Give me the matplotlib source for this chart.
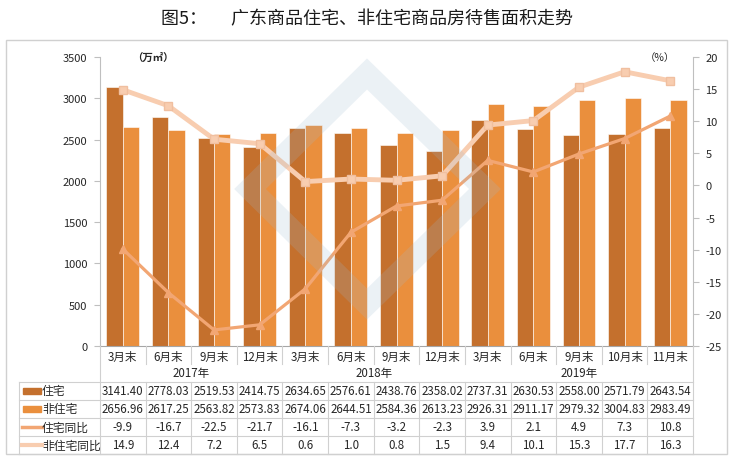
import numpy as np
import matplotlib.pyplot as plt
import matplotlib.transforms as mtransforms
from matplotlib.lines import Line2D
from matplotlib.patches import Rectangle, Polygon

plt.rcParams['font.family'] = ['Noto Sans CJK SC', 'DejaVu Sans']
plt.rcParams['axes.unicode_minus'] = False

months = ['3月末', '6月末', '9月末', '12月末', '3月末', '6月末', '9月末', '12月末',
          '3月末', '6月末', '9月末', '10月末', '11月末']
years = ['2017年', '2018年', '2019年']
year_span = [(0, 3), (4, 7), (8, 12)]
zhuzhai = [3141.40, 2778.03, 2519.53, 2414.75, 2634.65, 2576.61, 2438.76, 2358.02,
           2737.31, 2630.53, 2558.00, 2571.79, 2643.54]
fei_zhuzhai = [2656.96, 2617.25, 2563.82, 2573.83, 2674.06, 2644.51, 2584.36, 2613.23,
               2926.31, 2911.17, 2979.32, 3004.83, 2983.49]
zhuzhai_yoy = [-9.9, -16.7, -22.5, -21.7, -16.1, -7.3, -3.2, -2.3, 3.9, 2.1, 4.9, 7.3, 10.8]
fei_yoy = [14.9, 12.4, 7.2, 6.5, 0.6, 1.0, 0.8, 1.5, 9.4, 10.1, 15.3, 17.7, 16.3]

c_zz = '#C4702D'
c_fz = '#EA8F3D'
c_zy = '#F2A673'
c_fy = '#F8CDB0'
grid_c = '#BFBFBF'
txt_c = '#262626'

W, H = 734, 464
fig = plt.figure(figsize=(W / 100, H / 100), dpi=100)


def fx(px):
    return px / W


def fy(py):
    return 1 - py / H


# outer frame
fig.add_artist(Rectangle((fx(6), fy(455)), fx(727) - fx(6), fy(41) - fy(455),
                         transform=fig.transFigure, fill=False, ec='#D0D0D0', lw=1))

fig.text(0.5, fy(19), '图5：      广东商品住宅、非住宅商品房待售面积走势',
         ha='center', va='center', fontsize=13, color='#1a1a1a')

ax_l, ax_r, ax_t, ax_b = 100, 693, 58, 347
ax = fig.add_axes([fx(ax_l), fy(ax_b), fx(ax_r) - fx(ax_l), fy(ax_t) - fy(ax_b)])
ax2 = ax.twinx()

x = np.arange(len(months))
bw = 0.36
ax.bar(x - bw / 2, zhuzhai, bw, color=c_zz, edgecolor='white', linewidth=0.4, zorder=2)
ax.bar(x + bw / 2, fei_zhuzhai, bw, color=c_fz, edgecolor='white', linewidth=0.4, zorder=2)

ax2.plot(x, zhuzhai_yoy, color=c_zy, lw=2.3, marker='^', ms=6, mfc=c_zy, mec=c_zy, zorder=3)
ax2.plot(x, fei_yoy, color=c_fy, lw=3.5, marker='s', ms=6, mfc=c_fy, mec='#F0BFA0', zorder=3)

ax.set_xlim(-0.5, len(months) - 0.5)
ax.set_ylim(0, 3500)
ax.set_yticks(np.arange(0, 3501, 500))
ax2.set_ylim(-25, 20)
ax2.set_yticks(np.arange(-25, 21, 5))
ax.set_xticks([])

for a in (ax, ax2):
    for s in a.spines.values():
        s.set_visible(False)
    a.tick_params(axis='y', colors=txt_c, labelsize=8, length=4, width=0.8, color=grid_c, pad=5)
ax.spines['left'].set_visible(True)
ax.spines['left'].set_color(grid_c)
ax2.spines['right'].set_visible(True)
ax2.spines['right'].set_color(grid_c)
ax.spines['bottom'].set_visible(True)
ax.spines['bottom'].set_color('#A6A6A6')
ax.patch.set_alpha(0)

ax.text(0.055, 1.0, '（万㎡）', transform=ax.transAxes, fontsize=7.5, fontweight='bold',
        ha='left', va='center', color=txt_c)
ax2.text(0.97, 1.0, '（%）', transform=ax.transAxes, fontsize=7.5,
         ha='right', va='center', color=txt_c)

# faint watermark diamond
fig.add_artist(Polygon([(fx(367), fy(75)), (fx(485), fy(190)), (fx(367), fy(305)), (fx(250), fy(190))],
                       closed=True, fill=False, ec='#9FBBD0', lw=16, alpha=0.2,
                       transform=fig.transFigure, zorder=5))

# data table below the axes
tr = mtransforms.blended_transform_factory(ax.transData, fig.transFigure)
row_month, row_year = 357, 374
rows_y = [392, 410, 428, 446]
row_lines = [383, 401, 419, 437, 455]
tab_left = 19

for xi, m in zip(x, months):
    fig.text(xi, fy(row_month), m, transform=tr, ha='center', va='center', fontsize=8.3, color=txt_c)
for (a, b), yr in zip(year_span, years):
    fig.text((a + b) / 2, fy(row_year), yr, transform=tr, ha='center', va='center',
             fontsize=8.3, color=txt_c)

series = [zhuzhai, fei_zhuzhai, zhuzhai_yoy, fei_yoy]
fmts = ['{:.2f}', '{:.2f}', '{:.1f}', '{:.1f}']
for vals, fmt, ry in zip(series, fmts, rows_y):
    for xi, v in zip(x, vals):
        fig.text(xi, fy(ry), fmt.format(v), transform=tr, ha='center', va='center',
                 fontsize=8.3, color=txt_c)

# grid lines of the table
for ly in row_lines:
    fig.add_artist(Line2D([fx(tab_left), fx(ax_r)], [fy(ly), fy(ly)], transform=fig.transFigure,
                          color='#D0D0D0', lw=0.8))
for b in np.arange(0.5, len(months) - 1, 1.0):
    fig.add_artist(Line2D([b, b], [fy(ax_b), fy(365)], transform=tr, color='#D0D0D0', lw=0.8))
    fig.add_artist(Line2D([b, b], [fy(383), fy(455)], transform=tr, color='#D0D0D0', lw=0.8))
for px in (ax_l, ax_r):
    fig.add_artist(Line2D([fx(px), fx(px)], [fy(ax_b), fy(455)], transform=fig.transFigure,
                          color='#D0D0D0', lw=0.8))
fig.add_artist(Line2D([fx(tab_left), fx(tab_left)], [fy(383), fy(455)], transform=fig.transFigure,
                      color='#D0D0D0', lw=0.8))

# legend keys in the table
labels = ['住宅', '非住宅', '住宅同比', '非住宅同比']
for i, (lab, ry) in enumerate(zip(labels, rows_y)):
    if i == 0:
        fig.add_artist(Rectangle((fx(23), fy(ry + 3)), fx(18), fy(ry - 3) - fy(ry + 3),
                                 transform=fig.transFigure, color=c_zz))
    elif i == 1:
        fig.add_artist(Rectangle((fx(23), fy(ry + 3)), fx(18), fy(ry - 3) - fy(ry + 3),
                                 transform=fig.transFigure, color=c_fz))
    elif i == 2:
        fig.add_artist(Line2D([fx(22), fx(42)], [fy(ry), fy(ry)], transform=fig.transFigure,
                              color=c_zy, lw=2.5))
    else:
        fig.add_artist(Line2D([fx(22), fx(42)], [fy(ry), fy(ry)], transform=fig.transFigure,
                              color=c_fy, lw=3))
    fig.text(fx(42), fy(ry), lab, ha='left', va='center', fontsize=8.5, color=txt_c)

fig.savefig('out.png', dpi=100)
